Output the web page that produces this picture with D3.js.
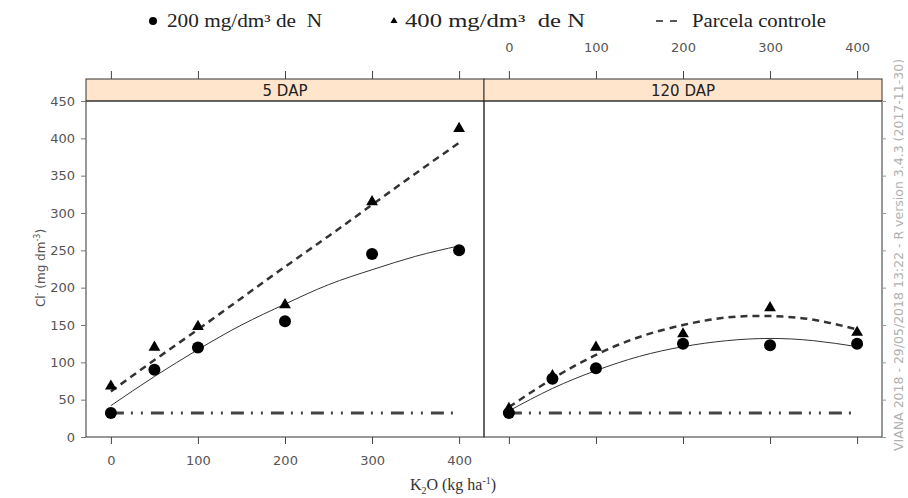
<!DOCTYPE html>
<html>
<head>
<meta charset="utf-8">
<script src="https://cdn.jsdelivr.net/npm/d3@7"></script>
<style>
  body { margin: 0; background: #fff; }
  svg text { font-family: "DejaVu Sans", sans-serif; white-space: pre; }
  svg text.serif { font-family: "Liberation Serif", "DejaVu Serif", serif; }
</style>
</head>
<body>
<div id="chart"></div>
<script>
// doses of K2O (kg/ha)
var doses = [0, 50, 100, 200, 300, 400];
var panels = ["5 DAP", "120 DAP"];

// observed Cl- (mg dm-3)
var n200_5 = [32, 90, 120, 155, 245, 250];
var n400_5 = [68, 120, 148, 177, 315, 413];
var n200_120 = [32, 78, 92, 125, 123, 125];
var n400_120 = [38, 82, 120, 138, 173, 140];
var controle = [32, 32];
var controleX = [0, 400];

// fitted curves
var fitX = [0, 50, 100, 150, 200, 250, 300, 350, 400];
var fit200_5 = [42, 81, 117, 150, 178, 204, 224, 242, 256];
var fit400_5 = [61, 103, 144, 186, 228, 269, 311, 353, 394];
var fit200_120 = [35, 65, 89, 108, 121, 129, 132, 129, 121];
var fit400_120 = [40, 78, 110, 134, 150, 160, 162, 157, 144];

var xTicks = [0, 100, 200, 300, 400];
var yTicks = [0, 50, 100, 150, 200, 250, 300, 350, 400, 450];

(function() {
var W = 908, H = 498;
var svg = d3.select("#chart").append("svg")
  .attr("width", W).attr("height", H);

var plotTop = 101, plotBottom = 437, stripTop = 79;
var panelX = [[86, 484], [484, 882]];

var y = d3.scaleLinear().domain([0, 450]).range([plotBottom, plotTop]);

var data = [
  { c: n200_5, t: n400_5, fc: fit200_5, ft: fit400_5 },
  { c: n200_120, t: n400_120, fc: fit200_120, ft: fit400_120 }
];

panels.forEach(function(name, i) {
  var x = d3.scaleLinear().domain([-28.6, 428.6]).range(panelX[i]);
  var g = svg.append("g");
  var d = data[i];

  // strip
  g.append("rect")
    .attr("x", panelX[i][0]).attr("y", stripTop)
    .attr("width", panelX[i][1] - panelX[i][0]).attr("height", plotTop - stripTop)
    .attr("fill", "#ffe5cc").attr("stroke", "#333").attr("stroke-width", 1);
  g.append("text")
    .attr("x", (panelX[i][0] + panelX[i][1]) / 2).attr("y", plotTop - 5)
    .attr("text-anchor", "middle").attr("font-size", 15).attr("fill", "#222")
    .text(name);

  // panel box
  g.append("rect")
    .attr("x", panelX[i][0]).attr("y", plotTop)
    .attr("width", panelX[i][1] - panelX[i][0]).attr("height", plotBottom - plotTop)
    .attr("fill", "none").attr("stroke", "#333").attr("stroke-width", 1);

  // bottom axis
  var ab = g.append("g").attr("transform", "translate(0," + plotBottom + ")")
    .call(d3.axisBottom(x).tickValues(xTicks).tickSize(7).tickPadding(12)
      .tickFormat(i == 0 ? d3.format("d") : function() { return ""; }));
  // top axis
  var at = g.append("g").attr("transform", "translate(0," + stripTop + ")")
    .call(d3.axisTop(x).tickValues(xTicks).tickSize(8).tickPadding(19)
      .tickFormat(i == 1 ? d3.format("d") : function() { return ""; }));
  [ab, at].forEach(function(a) {
    a.select(".domain").remove();
    a.selectAll("line").attr("stroke", "#444");
    a.selectAll("text").attr("font-size", 13).attr("fill", "#555");
  });

  // controle
  g.append("path")
    .datum(controleX.map(function(v, k) { return [v, controle[k]]; }))
    .attr("fill", "none").attr("stroke", "#444").attr("stroke-width", 3)
    .attr("stroke-dasharray", "13,7,2,8,2,8")
    .attr("d", d3.line().x(function(p) { return x(p[0]); }).y(function(p) { return y(p[1]); }));

  var line = d3.line().curve(d3.curveNatural)
    .x(function(p) { return x(p[0]); }).y(function(p) { return y(p[1]); });

  g.append("path")
    .datum(fitX.map(function(v, k) { return [v, d.fc[k]]; }))
    .attr("fill", "none").attr("stroke", "#333").attr("stroke-width", 1)
    .attr("d", line);
  g.append("path")
    .datum(fitX.map(function(v, k) { return [v, d.ft[k]]; }))
    .attr("fill", "none").attr("stroke", "#333").attr("stroke-width", 2.5)
    .attr("stroke-dasharray", "7,5")
    .attr("d", line);

  g.selectAll("circle.pt").data(doses).enter().append("circle")
    .attr("class", "pt")
    .attr("cx", function(v) { return x(v); })
    .attr("cy", function(v, k) { return y(d.c[k]); })
    .attr("r", 6).attr("fill", "#000");

  g.selectAll("path.tri").data(doses).enter().append("path")
    .attr("class", "tri")
    .attr("transform", function(v, k) { return "translate(" + x(v) + "," + y(d.t[k]) + ")"; })
    .attr("d", d3.symbol().type(d3.symbolTriangle).size(60))
    .attr("fill", "#000");
});

// y axis on left
var ay = svg.append("g").attr("transform", "translate(" + panelX[0][0] + ",0)")
  .call(d3.axisLeft(y).tickValues(yTicks).tickSize(5).tickPadding(6));
ay.select(".domain").remove();
ay.selectAll("line").attr("stroke", "#777");
ay.selectAll("text").attr("font-size", 13).attr("fill", "#555");

// ticks on right edge, no labels
var ayr = svg.append("g").attr("transform", "translate(" + panelX[1][1] + ",0)")
  .call(d3.axisRight(y).tickValues(yTicks).tickSize(4).tickFormat(""));
ayr.select(".domain").remove();
ayr.selectAll("line").attr("stroke", "#999");

// y label
svg.append("text")
  .attr("transform", "translate(45,268) rotate(-90)")
  .attr("text-anchor", "middle").attr("font-size", 12).attr("fill", "#555")
  .html('Cl<tspan dy="-5" font-size="8">-</tspan><tspan dy="5"> (mg dm</tspan><tspan dy="-5" font-size="8">-3</tspan><tspan dy="5">)</tspan>');

// x label
svg.append("text").attr("class", "serif")
  .attr("x", 453).attr("y", 490)
  .attr("text-anchor", "middle").attr("font-size", 16).attr("fill", "#333")
  .html('K<tspan dy="4" font-size="10">2</tspan><tspan dy="-4">O (kg ha</tspan><tspan dy="-6" font-size="10">-1</tspan><tspan dy="6">)</tspan>');

// legend
var lg = svg.append("g");
lg.append("circle").attr("cx", 153).attr("cy", 21).attr("r", 4).attr("fill", "#000");
lg.append("text").attr("class", "serif").attr("x", 167).attr("y", 27)
  .attr("font-size", 18).attr("fill", "#222")
  .attr("textLength", 155).attr("lengthAdjust", "spacingAndGlyphs")
  .text("200 mg/dm³ de  N");
lg.append("path").attr("transform", "translate(394,21)")
  .attr("d", d3.symbol().type(d3.symbolTriangle).size(22)).attr("fill", "#000");
lg.append("text").attr("class", "serif").attr("x", 405).attr("y", 27)
  .attr("font-size", 18).attr("fill", "#222")
  .attr("textLength", 180).attr("lengthAdjust", "spacingAndGlyphs")
  .text("400 mg/dm³  de N");
lg.append("line").attr("x1", 656).attr("x2", 684).attr("y1", 21).attr("y2", 21)
  .attr("stroke", "#222").attr("stroke-width", 1.5).attr("stroke-dasharray", "7,7");
lg.append("text").attr("class", "serif").attr("x", 692).attr("y", 27)
  .attr("font-size", 18).attr("fill", "#222")
  .attr("textLength", 134).attr("lengthAdjust", "spacingAndGlyphs")
  .text("Parcela controle");

// watermark
svg.append("text")
  .attr("transform", "translate(903,255) rotate(-90)")
  .attr("text-anchor", "middle").attr("font-size", 12.5).attr("fill", "#b0b0b0")
  .text("VIANA 2018 - 29/05/2018 13:22 - R version 3.4.3 (2017-11-30)");
})();
</script>
</body>
</html>
